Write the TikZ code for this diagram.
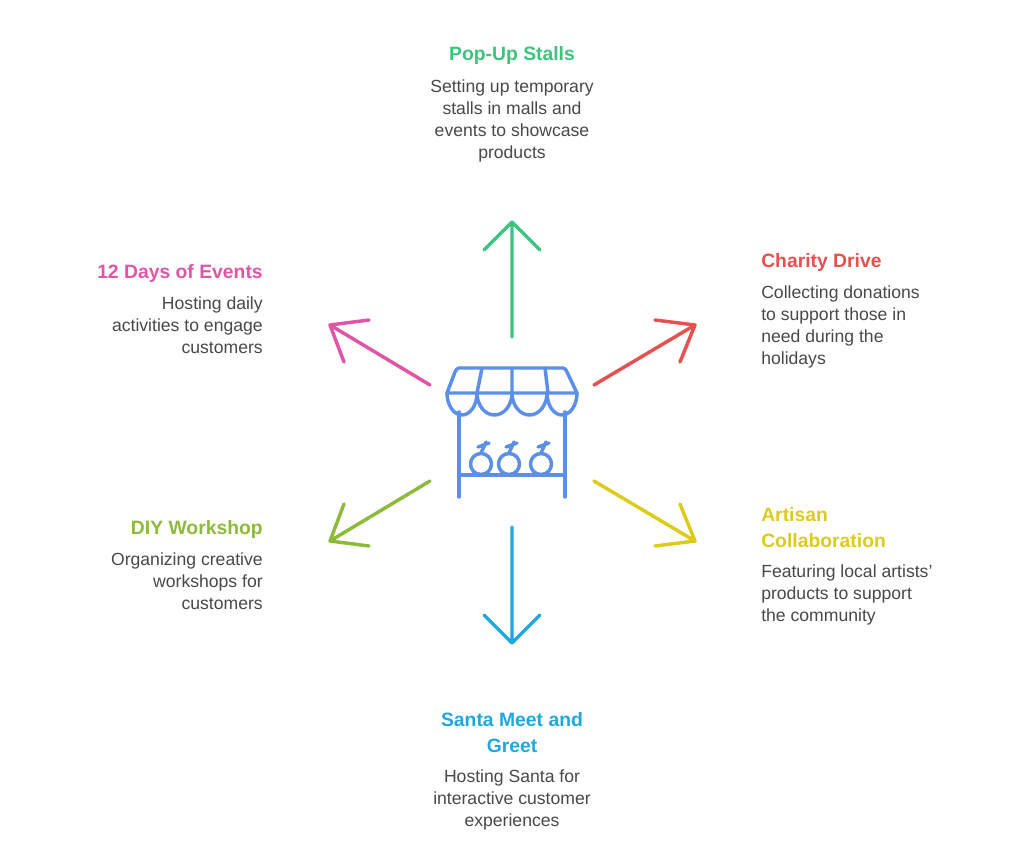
\documentclass[tikz,border=0pt]{standalone}
\usepackage{fontspec}
\setmainfont{Liberation Sans}
\begin{document}
\begin{tikzpicture}[x=0.75pt,y=-0.75pt,
 arr/.style={line width=2.6pt,line cap=round,line join=round},
 ttl/.style={font=\bfseries\fontsize{14.5}{16.5}\selectfont,inner sep=0pt},
 bod/.style={font=\fontsize{13.2}{16.5}\selectfont,text=txt,inner sep=0pt},
 ic/.style={draw=icon,line width=2.6pt,line cap=round,line join=round}]
\definecolor{txt}{HTML}{484848}
\definecolor{cgreen}{HTML}{3CC47C}\definecolor{cred}{HTML}{E55050}
\definecolor{cpink}{HTML}{E055A5}\definecolor{colive}{HTML}{8DBA3A}
\definecolor{cyel}{HTML}{DDCB1C}\definecolor{cblue}{HTML}{1FA8DE}
\definecolor{icon}{HTML}{5B8FE8}
\useasboundingbox (0,0) rectangle (1024,849);
% icon
\draw[ic] (447,393) -- (455,372) to[out=60,in=180] (459,368) -- (563,368) to[out=0,in=120] (567,372) -- (577,393) -- cycle;
\draw[ic] (482,368)--(477,393) (512,368)--(512,393) (545,368)--(548,393);
\draw[ic] (447,393) arc[start angle=180,end angle=0,x radius=15,y radius=22] arc[start angle=180,end angle=0,x radius=17.5,y radius=22] arc[start angle=180,end angle=0,x radius=17.5,y radius=22] arc[start angle=180,end angle=0,x radius=15,y radius=22];
\draw[ic] (459,412)--(459,497) (565,412)--(565,497) (459,475)--(565,475);
\foreach \cx in {481,509,541}{
 \draw[ic] (\cx,464) circle[radius=10.5];
 \draw[ic] (\cx,453) -- (\cx+5,442) (\cx-3,447)--(\cx+8,443);}
% arrows
\draw[arr,cgreen] (512,337)--(512,222) (484,250)--(512,222)--(540,250);
\draw[arr,cred] (594,385)--(695,325) (655,320)--(695,325)--(680,362);
\draw[arr,cpink] (430,385)--(330,325) (369,320)--(330,325)--(344,362);
\draw[arr,colive] (430,481)--(330,541) (344,504)--(330,541)--(369,546);
\draw[arr,cyel] (594,481)--(695,541) (680,504)--(695,541)--(655,546);
\draw[arr,cblue] (512,527)--(512,643) (484,615)--(512,643)--(540,615);
% texts
\node[ttl,text=cgreen,anchor=base] (t1) at (512,61) {Pop-Up Stalls};
\node[bod,anchor=north,align=center] (b1) at (512,79) {Setting up temporary\\stalls in malls and\\events to showcase\\products};
\node[ttl,text=cpink,anchor=base east] (t2) at (263,278) {12 Days of Events};
\node[bod,anchor=north east,align=right] (b2) at (263,296) {Hosting daily\\activities to engage\\customers};
\node[ttl,text=cred,anchor=base west] (t3) at (761,267) {Charity Drive};
\node[bod,anchor=north west,align=left] (b3) at (761,285) {Collecting donations\\to support those in\\need during the\\holidays};
\node[ttl,text=colive,anchor=base east] (t4) at (263,534) {DIY Workshop};
\node[bod,anchor=north east,align=right] (b4) at (263,552) {Organizing creative\\workshops for\\customers};
\node[ttl,text=cyel,anchor=north west,align=left,font=\bfseries\fontsize{14.5}{19.5}\selectfont] (t5) at (761,507) {Artisan\\Collaboration};
\node[bod,anchor=north west,align=left] (b5) at (761,564) {Featuring local artists'\\products to support\\the community};
\node[ttl,text=cblue,anchor=north,align=center,font=\bfseries\fontsize{14.5}{19.5}\selectfont] (t6) at (512,712) {Santa Meet and\\Greet};
\node[bod,anchor=north,align=center] (b6) at (512,769) {Hosting Santa for\\interactive customer\\experiences};
\end{tikzpicture}
\end{document}
